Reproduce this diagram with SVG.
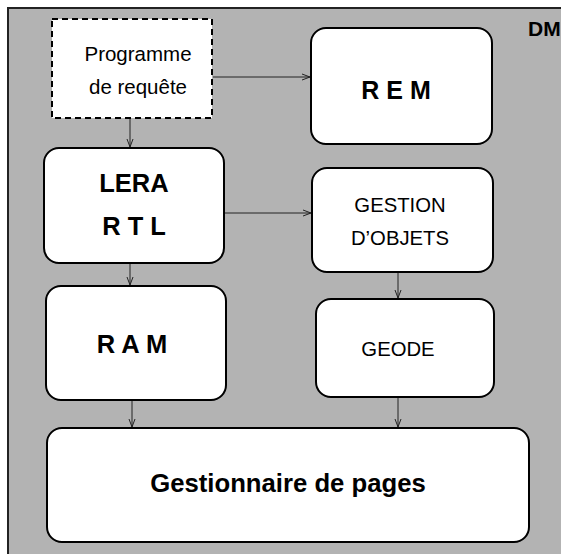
<svg xmlns="http://www.w3.org/2000/svg" width="561" height="554" viewBox="0 0 561 554">
<defs>
<marker id="arr" markerWidth="10" markerHeight="8" refX="9" refY="4" orient="auto" markerUnits="userSpaceOnUse">
<path d="M1,1 L9,4 L1,7" fill="none" stroke="#222" stroke-width="1"/>
</marker>
</defs>
<style>
.box{fill:#fff;stroke:#000;stroke-width:2}
.b{font-family:"Liberation Sans",Arial,sans-serif;font-weight:bold;fill:#000;text-anchor:middle}
.r{font-family:"Liberation Sans",Arial,sans-serif;fill:#000;text-anchor:middle}
.c{stroke:#222;stroke-width:1;fill:none;marker-end:url(#arr)}
</style>
<rect x="0" y="0" width="561" height="554" fill="#fff"/>
<rect x="8" y="8" width="570" height="560" fill="#b3b3b3" stroke="#222" stroke-width="2"/>
<text x="528" y="36" class="b" style="text-anchor:start;font-size:21px">DM</text>
<g id="programme">
<rect x="52" y="19" width="160" height="99" class="box" stroke-dasharray="6,4"/>
<text x="138" y="61" class="r" font-size="20.5">Programme</text>
<text x="138" y="94" class="r" font-size="20.5">de requête</text>
</g>
<g id="rem">
<rect x="311" y="28" width="181" height="116" rx="15" class="box"/>
<text x="396" y="99" class="b" font-size="25">R E M</text>
</g>
<g id="lera">
<rect x="44" y="148" width="180" height="115" rx="15" class="box"/>
<text x="134" y="192" class="b" font-size="25.5">LERA</text>
<text x="134" y="235" class="b" font-size="25.5">R T L</text>
</g>
<g id="gestion">
<rect x="312" y="168" width="181" height="104" rx="15" class="box"/>
<text x="400" y="212" class="r" font-size="20.3">GESTION</text>
<text x="400" y="245" class="r" font-size="20.3">D’OBJETS</text>
</g>
<g id="ram">
<rect x="46" y="286" width="180" height="114" rx="15" class="box"/>
<text x="132" y="353" class="b" font-size="25.5">R A M</text>
</g>
<g id="geode">
<rect x="316" y="299" width="178" height="98" rx="15" class="box"/>
<text x="398" y="356" class="r" font-size="20.3">GEODE</text>
</g>
<g id="gestionnaire">
<rect x="47" y="428" width="482" height="114" rx="15" class="box"/>
<text x="288" y="492" class="b" font-size="25.7">Gestionnaire de pages</text>
</g>
<g id="connectors">
<line x1="213" y1="77" x2="310" y2="77" class="c"/>
<line x1="130" y1="119" x2="130" y2="147" class="c"/>
<line x1="225" y1="213" x2="311" y2="213" class="c"/>
<line x1="130" y1="264" x2="130" y2="285" class="c"/>
<line x1="398" y1="273" x2="398" y2="298" class="c"/>
<line x1="132" y1="401" x2="132" y2="427" class="c"/>
<line x1="398" y1="398" x2="398" y2="427" class="c"/>
</g>
</svg>
